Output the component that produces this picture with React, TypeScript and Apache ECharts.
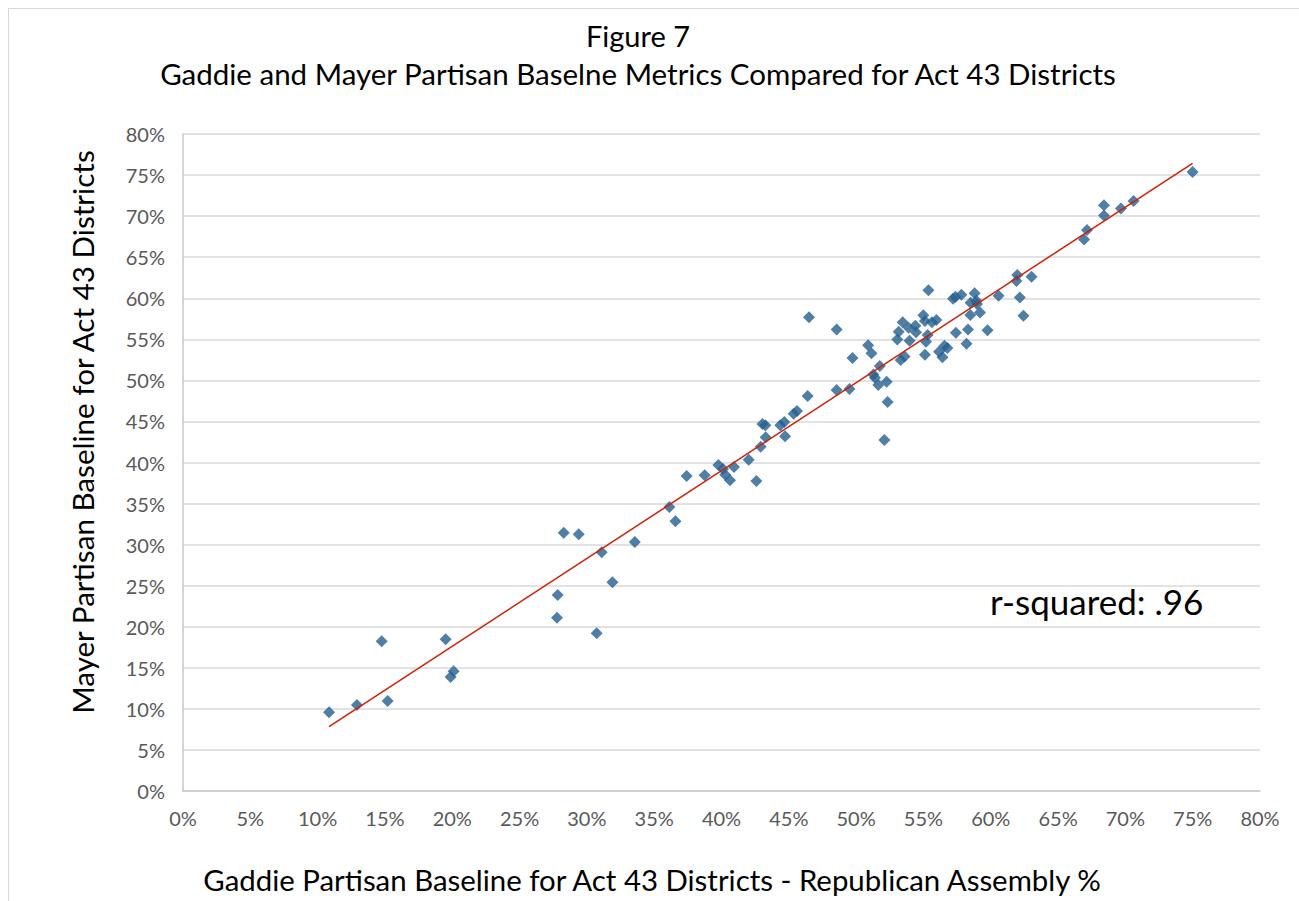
import React, { useEffect, useRef } from "react";
import * as echarts from "echarts";

// Gaddie partisan baseline (x, %) and Mayer partisan baseline (y, %) per district
const gaddie = [
  10.85, 12.92, 14.76, 15.2, 19.51, 19.88, 20.1, 27.78, 27.83, 28.28,
  29.39, 30.73, 31.1, 31.9, 33.56, 36.13, 36.58, 37.41, 38.75, 39.77,
  40.11, 40.28, 40.63, 40.93, 42.02, 42.59, 42.91, 43.04, 43.26, 43.28,
  44.37, 44.67, 44.72, 45.36, 45.61, 46.4, 46.5, 48.55, 48.55, 49.51,
  49.73, 50.89, 51.14, 51.76, 51.28, 51.4, 51.65, 52.27, 52.34, 52.1,
  55.37, 53.06, 53.16, 53.46, 53.31, 53.6, 53.9, 53.97, 54.4, 54.45,
  54.99, 55.11, 55.19, 55.31, 55.11, 55.63, 55.96, 56.16, 56.41, 56.56,
  56.78, 57.2, 57.38, 57.82, 57.41, 58.2, 58.31, 58.48, 58.5, 58.8,
  58.93, 58.98, 59.2, 59.76, 60.58, 61.91, 61.97, 62.16, 62.43, 63.03,
  66.93, 67.15, 68.41, 68.41, 69.67, 70.61, 74.99,
];
const mayer = [
  9.58, 10.47, 18.23, 10.96, 18.47, 13.88, 14.57, 21.1, 23.87, 31.45,
  31.25, 19.2, 29.06, 25.41, 30.32, 34.58, 32.84, 38.36, 38.44, 39.7,
  39.21, 38.5, 37.83, 39.45, 40.34, 37.75, 41.93, 44.69, 44.53, 43.07,
  44.53, 44.94, 43.19, 45.95, 46.27, 48.1, 57.7, 56.2, 48.83, 48.95,
  52.72, 54.27, 53.29, 51.75, 50.73, 50.33, 49.44, 49.84, 47.37, 42.74,
  60.97, 54.98, 55.92, 57.07, 52.48, 52.92, 56.41, 54.83, 56.66, 55.85,
  57.92, 57.23, 54.71, 55.53, 53.11, 57.07, 57.35, 53.5, 52.82, 54.23,
  53.94, 59.93, 60.18, 60.42, 55.81, 54.47, 56.2, 57.96, 59.46, 60.6,
  59.7, 59.3, 58.25, 56.09, 60.31, 62.1, 62.83, 60.1, 57.88, 62.63,
  67.16, 68.31, 71.31, 70.09, 70.93, 71.84, 75.37,
];

const titleLines = [
  "Figure 7",
  "Gaddie and Mayer Partisan Baselne Metrics Compared for Act 43 Districts",
];
const xTitle = "Gaddie Partisan Baseline for Act 43 Districts - Republican Assembly %";
const yTitle = "Mayer Partisan Baseline for Act 43 Districts";
const rSquaredLabel = "r-squared: .96";

const axisMin = 0;
const axisMax = 80;
const axisStep = 5;

function leastSquares(xs: number[], ys: number[]) {
  const n = xs.length;
  const mx = xs.reduce((s, v) => s + v, 0) / n;
  const my = ys.reduce((s, v) => s + v, 0) / n;
  let sxy = 0;
  let sxx = 0;
  for (let i = 0; i < n; i++) {
    sxy += (xs[i] - mx) * (ys[i] - my);
    sxx += (xs[i] - mx) * (xs[i] - mx);
  }
  const slope = sxy / sxx;
  return { slope, intercept: my - slope * mx };
}

const FONT = "Lato";

export default function App() {
  const ref = useRef<HTMLDivElement>(null);

  useEffect(() => {
    if (!ref.current) return;
    const chart = echarts.init(ref.current, null, { renderer: "svg" });
    const points = gaddie.map((x, i) => [x, mayer[i]]);
    const { slope, intercept } = leastSquares(gaddie, mayer);
    const xLo = Math.min(...gaddie);
    const xHi = Math.max(...gaddie);
    const trend = [
      [xLo, intercept + slope * xLo],
      [xHi, intercept + slope * xHi],
    ];

    chart.setOption({
      animation: false,
      backgroundColor: "#ffffff",
      grid: { left: 174, top: 125, right: 39, bottom: 110, containLabel: false },
      xAxis: {
        type: "value",
        min: axisMin,
        max: axisMax,
        interval: axisStep,
        axisLine: { show: true, lineStyle: { color: "#c9c9c9", width: 1.5 } },
        axisTick: { show: false },
        splitLine: { show: false },
        axisLabel: {
          formatter: "{value}%",
          color: "#595959",
          fontFamily: FONT,
          fontSize: 20,
          margin: 17,
        },
      },
      yAxis: {
        type: "value",
        min: axisMin,
        max: axisMax,
        interval: axisStep,
        axisLine: { show: true, lineStyle: { color: "#c9c9c9", width: 1.5 } },
        axisTick: { show: false },
        splitLine: { show: true, lineStyle: { color: "#d9d9d9", width: 1.5 } },
        axisLabel: {
          formatter: "{value}%",
          color: "#595959",
          fontFamily: FONT,
          fontSize: 20,
          margin: 18,
        },
      },
      series: [
        {
          type: "scatter",
          data: points,
          symbol: "diamond",
          symbolSize: 12,
          itemStyle: { color: "#245f8f" },
          z: 2,
        },
        {
          type: "line",
          data: trend,
          showSymbol: false,
          symbol: "none",
          lineStyle: { color: "#d21f05", width: 1.5 },
          z: 3,
        },
      ],
      graphic: [
        {
          type: "text",
          x: 629,
          y: 26,
          style: {
            text: titleLines[0],
            fontFamily: FONT,
            fontSize: 29,
            fill: "#000000",
            textAlign: "center",
            textVerticalAlign: "middle",
          },
        },
        {
          type: "text",
          x: 629,
          y: 64,
          style: {
            text: titleLines[1],
            fontFamily: FONT,
            fontSize: 29.5,
            fill: "#000000",
            textAlign: "center",
            textVerticalAlign: "middle",
          },
        },
        {
          type: "text",
          x: 643,
          y: 870,
          style: {
            text: xTitle,
            fontFamily: FONT,
            fontSize: 29.4,
            fill: "#000000",
            textAlign: "center",
            textVerticalAlign: "middle",
          },
        },
        {
          type: "text",
          x: 73,
          y: 423,
          rotation: Math.PI / 2,
          style: {
            text: yTitle,
            fontFamily: FONT,
            fontSize: 29.6,
            fill: "#000000",
            textAlign: "center",
            textVerticalAlign: "middle",
          },
        },
        {
          type: "text",
          x: 981,
          y: 592,
          style: {
            text: rSquaredLabel,
            fontFamily: FONT,
            fontSize: 35,
            fill: "#000000",
            textAlign: "left",
            textVerticalAlign: "middle",
          },
        },
      ],
    });

    return () => chart.dispose();
  }, []);

  return (
    <div
      style={{
        position: "absolute",
        left: 8,
        top: 8,
        width: 1291,
        height: 893,
        boxSizing: "border-box",
        borderTop: "1px solid #d9d9d9",
        borderLeft: "1px solid #d9d9d9",
        background: "#ffffff",
      }}
    >
      <div ref={ref} style={{ width: 1290, height: 892 }} />
    </div>
  );
}
